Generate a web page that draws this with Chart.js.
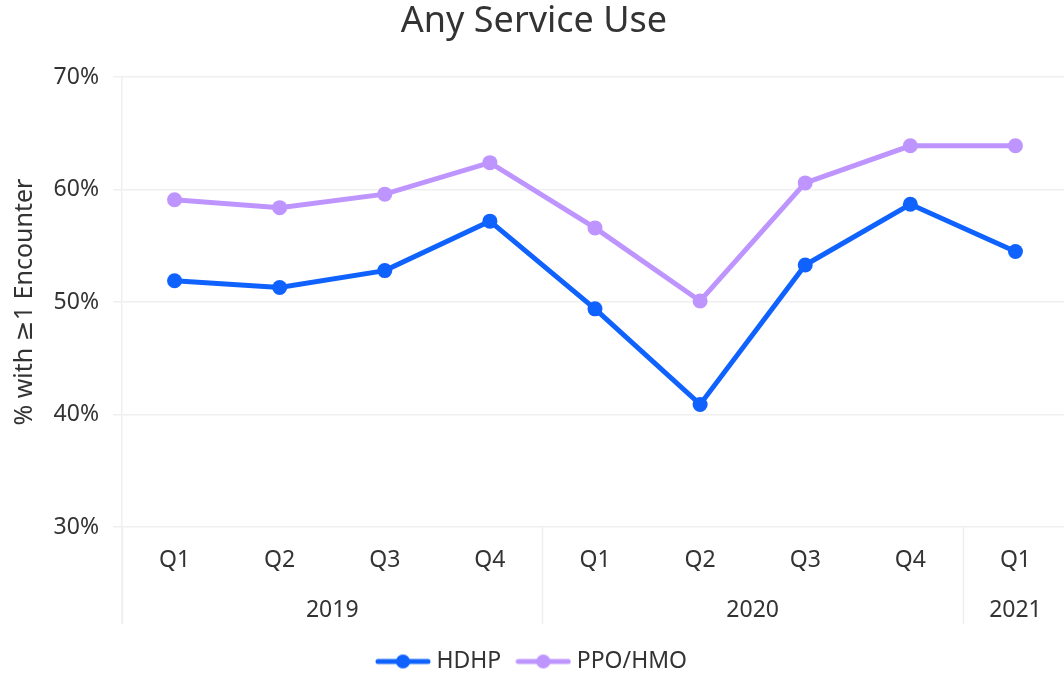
<!DOCTYPE html>
<html>
<head>
<meta charset="utf-8">
<script src="https://cdn.jsdelivr.net/npm/chart.js@4"></script>
<style>
  html, body { margin: 0; padding: 0; background: #ffffff; overflow: hidden; }
  #wrap { width: 1068px; height: 674px; }
</style>
</head>
<body>
<div id="wrap"><canvas id="c" width="1068" height="674"></canvas></div>
<script>
const quarters = ['Q1', 'Q2', 'Q3', 'Q4', 'Q1', 'Q2', 'Q3', 'Q4', 'Q1'];
const yearGroups = [
  { label: '2019', start: 0, end: 3 },
  { label: '2020', start: 4, end: 7 },
  { label: '2021', start: 8, end: 8 }
];
const hdhp = [51.9, 51.3, 52.8, 57.2, 49.4, 40.9, 53.3, 58.7, 54.5];
const ppoHmo = [59.1, 58.4, 59.6, 62.4, 56.6, 50.1, 60.6, 63.9, 63.9];
const yTicks = [30, 40, 50, 60, 70];

const FONT = '"Noto Sans", "DejaVu Sans", sans-serif';
const BLUE = '#0f62fe';
const PURPLE = '#be95ff';
const GRID = '#efefef';
const TEXT = '#333333';
const SEP_LEN = 97;

function legendIcon(color) {
  const cv = document.createElement('canvas');
  cv.width = 56; cv.height = 16;
  const c = cv.getContext('2d');
  c.strokeStyle = color; c.lineWidth = 5; c.lineCap = 'round';
  c.beginPath(); c.moveTo(3, 8); c.lineTo(53, 8); c.stroke();
  c.fillStyle = color;
  c.beginPath(); c.arc(28, 8, 7, 0, Math.PI * 2); c.fill();
  return cv;
}

const groupPlugin = {
  id: 'yearGroups',
  afterDraw(chart) {
    const x = chart.scales.x;
    const ctx = chart.ctx;
    const area = chart.chartArea;
    const half = (x.getPixelForValue(1) - x.getPixelForValue(0)) / 2;
    const bottom = area.bottom + SEP_LEN;
    ctx.save();
    ctx.strokeStyle = GRID;
    ctx.lineWidth = 1.5;
    ctx.beginPath(); ctx.moveTo(area.left, area.bottom); ctx.lineTo(area.left, bottom); ctx.stroke();
    yearGroups.forEach(g => {
      const sx = Math.round(x.getPixelForValue(g.start) - half) + 0.5;
      ctx.beginPath();
      ctx.moveTo(sx, area.bottom);
      ctx.lineTo(sx, bottom);
      ctx.stroke();
    });
    ctx.fillStyle = TEXT;
    ctx.font = '23px ' + FONT;
    ctx.textAlign = 'center';
    ctx.textBaseline = 'middle';
    yearGroups.forEach(g => {
      const cx = (x.getPixelForValue(g.start) + x.getPixelForValue(g.end)) / 2;
      ctx.fillText(g.label, cx, area.bottom + 83);
    });
    ctx.restore();
  }
};

new Chart(document.getElementById('c'), {
  type: 'line',
  data: {
    labels: quarters,
    datasets: [
      {
        label: 'HDHP',
        data: hdhp,
        borderColor: BLUE,
        backgroundColor: BLUE,
        borderWidth: 5,
        pointRadius: 7.5,
        pointHoverRadius: 7.5,
        pointBackgroundColor: BLUE,
        pointBorderWidth: 0,
        pointStyle: 'circle',
        tension: 0
      },
      {
        label: 'PPO/HMO',
        data: ppoHmo,
        borderColor: PURPLE,
        backgroundColor: PURPLE,
        borderWidth: 5,
        pointRadius: 7.5,
        pointHoverRadius: 7.5,
        pointBackgroundColor: PURPLE,
        pointBorderWidth: 0,
        pointStyle: 'circle',
        tension: 0
      }
    ]
  },
  options: {
    responsive: false,
    animation: false,
    devicePixelRatio: 1,
    layout: { autoPadding: false, padding: { left: 0, right: 0, top: 0, bottom: -9 } },
    plugins: {
      title: {
        display: true,
        text: 'Any Service Use',
        color: TEXT,
        font: { family: FONT, size: 36, weight: 'normal' },
        padding: { top: 0, bottom: 34 }
      },
      legend: {
        position: 'bottom',
        labels: {
          usePointStyle: true,
          pointStyleWidth: 44,
          boxHeight: 16,
          padding: 20,
          color: TEXT,
          font: { family: FONT, size: 23 },
          generateLabels(chart) {
            return chart.data.datasets.map((ds, i) => ({
              text: ds.label,
              fillStyle: ds.borderColor,
              strokeStyle: ds.borderColor,
              lineWidth: 0,
              pointStyle: legendIcon(ds.borderColor),
              datasetIndex: i,
              hidden: false,
              fontColor: TEXT
            }));
          }
        }
      },
      tooltip: { enabled: false }
    },
    scales: {
      x: {
        type: 'category',
        offset: true,
        grid: { display: false },
        border: { display: false },
        ticks: {
          color: TEXT,
          font: { family: FONT, size: 23 },
          padding: 12,
          maxRotation: 0
        },
        afterFit(scale) {
          scale.height = 103;
          scale.paddingLeft = 0;
          scale.paddingRight = 0;
        }
      },
      y: {
        min: 30,
        max: 70,
        afterBuildTicks(scale) { scale.ticks = yTicks.map(v => ({ value: v })); },
        grid: { color: GRID, lineWidth: 1.5, tickLength: 9 },
        border: { color: GRID, width: 1.5 },
        ticks: {
          color: TEXT,
          font: { family: FONT, size: 23 },
          padding: 14,
          callback: v => v + '%'
        },
        title: {
          display: true,
          text: '% with ≥1 Encounter',
          color: TEXT,
          font: { family: FONT, size: 25 },
          padding: { top: 10, bottom: 0 }
        },
        afterFit(scale) { scale.width = 122; }
      }
    }
  },
  plugins: [groupPlugin]
});
</script>
</body>
</html>
